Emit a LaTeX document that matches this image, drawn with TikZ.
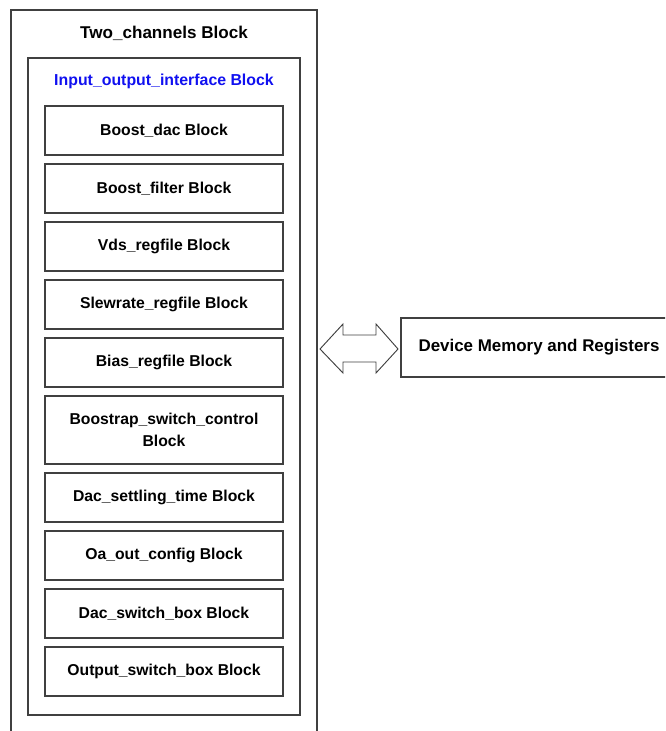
\documentclass[tikz,border=0pt]{standalone}
\usepackage{fontspec}
\setmainfont{Liberation Sans}
\usetikzlibrary{positioning}
\definecolor{boxline}{HTML}{404040}
\definecolor{iftitle}{HTML}{1010F0}
\tikzset{
  blockbox/.style={draw=boxline, line width=0.9pt, minimum width=178.5pt,
    minimum height=36.75pt, align=center, font=\fontsize{11.8}{17}\selectfont\bfseries},
  title/.style={font=\fontsize{11.9}{14.5}\selectfont\bfseries}
}
\begin{document}
\begin{tikzpicture}[x=0.75pt, y=-0.75pt]
  \useasboundingbox (0,0) rectangle (665,731);
  \clip (0,0) rectangle (665,731);
  % outer channel frame, open at the bottom
  \draw[boxline, line width=0.9pt] (11,740) -- (11,10) -- (317,10) -- (317,740);
  \node[title, font=\fontsize{12.8}{15}\selectfont\bfseries] (two) at (164,33) {Two\_channels Block};
  % interface frame
  \draw[boxline, line width=0.9pt] (28,58) rectangle (300,715);
  \node[title, text=iftitle] (io) at (164,81) {Input\_output\_interface Block};
  % sub blocks
  \node[blockbox] (dac) at (164,130.5) {Boost\_dac Block};
  \node[blockbox] (filt) at (164,188.5) {Boost\_filter Block};
  \node[blockbox] (vds) at (164,246.5) {Vds\_regfile Block};
  \node[blockbox] (slew) at (164,304.5) {Slewrate\_regfile Block};
  \node[blockbox] (bias) at (164,362.5) {Bias\_regfile Block};
  \node[blockbox, minimum height=51pt] (boot) at (164,430)
    {Boostrap\_switch\_control\\Block};
  \node[blockbox] (settle) at (164,497.5) {Dac\_settling\_time Block};
  \node[blockbox] (oa) at (164,555.5) {Oa\_out\_config Block};
  \node[blockbox] (dsw) at (164,613.5) {Dac\_switch\_box Block};
  \node[blockbox] (osw) at (164,671.5) {Output\_switch\_box Block};
  % memory side
  \node[blockbox, minimum width=207pt, minimum height=44.25pt,
        font=\fontsize{12.7}{15}\selectfont\bfseries] (mem) at (539,347.5)
    {Device Memory and Registers};
  \draw[boxline, line width=0.7pt, fill=white]
    (320,349) -- (343,324) -- (343,335) -- (376,335) -- (376,324) -- (398,349)
    -- (376,373) -- (376,362) -- (343,362) -- (343,373) -- cycle;
\end{tikzpicture}
\end{document}
